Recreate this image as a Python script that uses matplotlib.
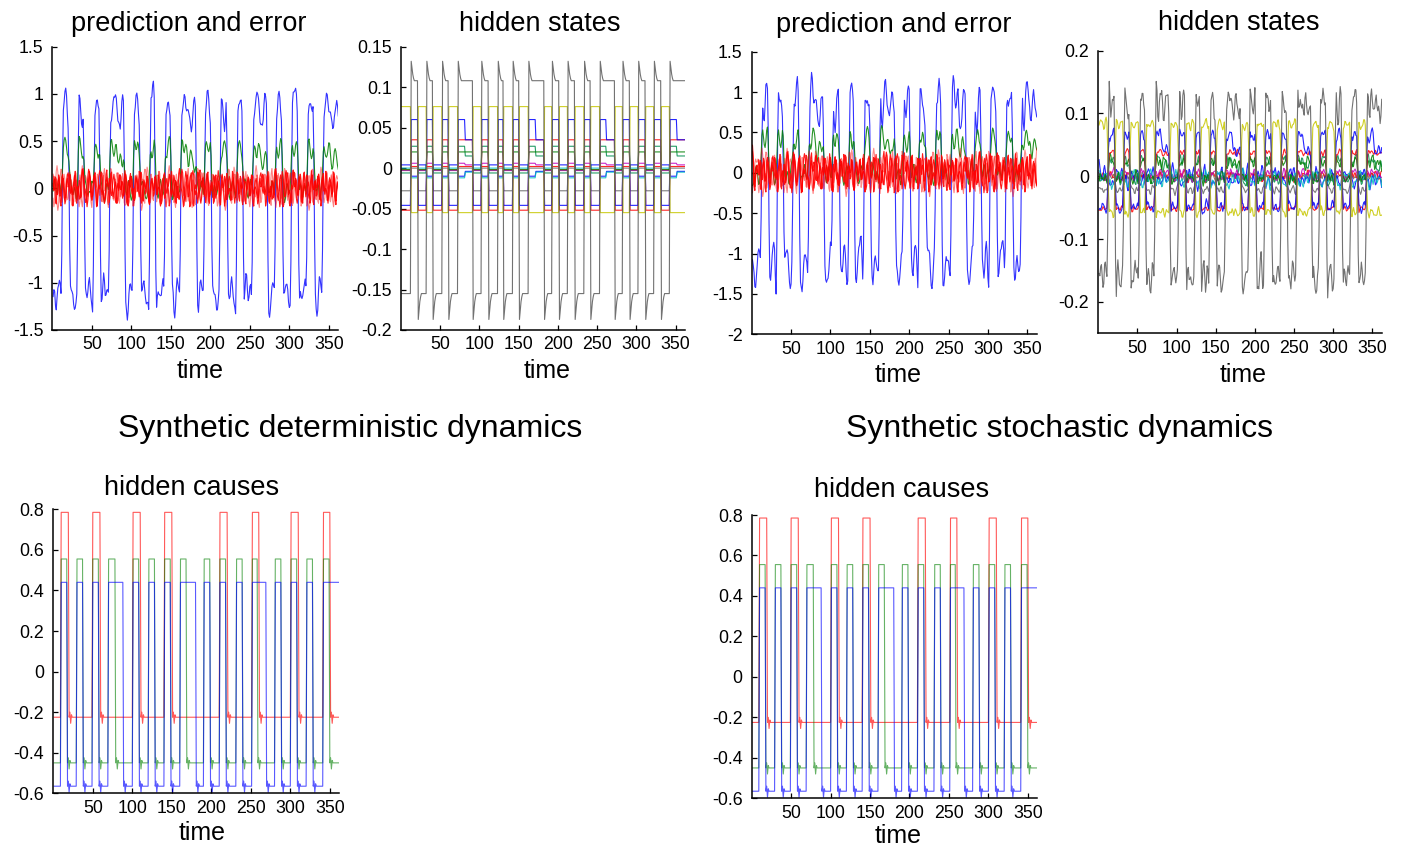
import numpy as np
import matplotlib
matplotlib.use("Agg")
import matplotlib.pyplot as plt

plt.rcParams["font.family"] = ["Liberation Sans", "DejaVu Sans"]

# ---------------- data ----------------
n_steps = 362
time = np.arange(1, n_steps + 1)
xticks = [50, 100, 150, 200, 250, 300, 350]

# hidden causes: intervals (start, end) on the upper level
red_cause_hi = [(10, 20), (50, 60), (101, 111), (141, 151), (211, 221), (252, 261), (301, 311), (342, 351)]
green_cause_hi = [(10, 18), (30, 38), (50, 58), (70, 79), (101, 109), (121, 129), (141, 149), (161, 169),
                  (191, 199), (211, 219), (232, 240), (252, 259), (281, 289), (301, 309), (321, 329), (342, 350)]
blue_cause_hi = [(10, 18), (30, 38), (50, 58), (70, 89), (101, 109), (121, 129), (141, 149), (161, 181),
                 (191, 199), (211, 219), (232, 240), (252, 270), (281, 289), (301, 309), (321, 329), (342, 363)]
red_cause_levels = [0.785, -0.225]
green_cause_levels = [0.555, -0.45]
blue_cause_levels = [0.44, -0.565]
cause_fall_blip = [0.0, 0.025, -0.03, 0.012, 0.0]

# hidden-state / prediction high phases (about 3 steps behind the causes)
state_hi = [(13, 22), (33, 41), (53, 61), (73, 92), (103, 112), (124, 131), (143, 151), (163, 183),
            (193, 202), (213, 222), (234, 242), (254, 273), (283, 292), (303, 312), (323, 332), (343, 363)]
state_first = [(13, 22), (33, 41), (53, 61), (73, 82), (103, 112), (124, 131), (143, 151), (163, 172),
               (193, 202), (213, 222), (234, 242), (254, 262), (283, 292), (303, 312), (323, 332), (343, 352)]

# deterministic hidden states: level in first part of high phase, extended part, low phase
hs_first = [0.108, -0.055, 0.060, 0.035, 0.020, -0.012, 0.006, -0.010, 0.027, 0.002, 0.000]
hs_ext = [0.108, -0.055, 0.035, 0.035, 0.020, -0.005, 0.004, -0.004, 0.015, 0.002, 0.000]
hs_low = [-0.155, 0.076, -0.046, -0.052, -0.002, 0.000, -0.003, 0.004, -0.006, -0.002, -0.028]
# stochastic hidden states
hs2_first = [0.115, -0.058, 0.066, 0.038, 0.022, -0.012, 0.006, -0.010, 0.026, 0.002, 0.000]
hs2_ext = [0.110, -0.058, 0.040, 0.036, 0.020, -0.005, 0.004, -0.004, 0.015, 0.002, 0.000]
hs2_low = [-0.160, 0.082, -0.050, -0.052, -0.004, 0.000, -0.003, 0.004, -0.006, -0.002, -0.022]
hs2_jitter = [0.075, 0.022, 0.026, 0.014, 0.028, 0.026, 0.020, 0.030, 0.026, 0.020, 0.018]
gray_rise = [0.132, 0.124, 0.116, 0.111]
gray_fall = [-0.187, -0.176, -0.165, -0.159]

# predictions (first part of high phase, extended part, low phase)
pred_blue_levels = [0.85, 0.80, -1.15]
pred_green_levels = [0.42, 0.30, -0.02]

# hand-estimated wiggle traces (normalised), reused across the noisy lines
wiggles = [
    [0.2, -0.5, 0.7, 0.1, -0.3, 0.9, -0.8, 0.4, 0.0, -0.6, 0.5, 0.3, -0.9, 0.6, -0.2, 0.8, -0.4, -0.7, 0.3, 0.1,
     -0.5, 0.9, -0.1, 0.4, -0.8, 0.2, 0.6, -0.3, -0.6, 0.7, 0.0, -0.9, 0.5, 0.3, -0.4, 0.8, -0.7, 0.1, 0.6, -0.2,
     -0.5, 0.4, 0.9, -0.8, 0.2, -0.1, 0.7, -0.6, 0.3, -0.3, 0.5, -0.9, 0.8, 0.1, -0.4, 0.6, -0.2, 0.0, -0.7, 0.4],
    [-0.3, 0.6, 0.1, -0.8, 0.4, 0.7, -0.2, -0.6, 0.9, 0.0, -0.4, 0.5, -0.9, 0.3, 0.8, -0.1, -0.7, 0.2, 0.6, -0.5,
     0.1, -0.3, 0.9, -0.6, 0.4, 0.0, -0.8, 0.7, 0.3, -0.2, -0.9, 0.5, 0.2, -0.4, 0.8, -0.1, -0.6, 0.6, 0.0, -0.3,
     0.7, -0.8, 0.4, 0.1, -0.5, 0.9, -0.2, -0.7, 0.3, 0.5, -0.4, 0.8, -0.9, 0.2, 0.6, -0.1, -0.5],
    [0.5, 0.1, -0.4, -0.9, 0.3, 0.8, 0.2, -0.5, -0.1, 0.7, -0.7, 0.4, 0.0, -0.3, 0.9, -0.6, 0.1, 0.6, -0.8, -0.2,
     0.5, 0.3, -0.5, 0.8, -0.9, 0.0, 0.4, -0.1, 0.7, -0.4, 0.2, -0.7, 0.9, 0.1, -0.3, -0.8, 0.6, 0.3, -0.6, 0.5,
     -0.2, 0.8, -0.4, 0.0, 0.7, -0.9, 0.3, 0.2, -0.5, 0.6, -0.1, -0.8, 0.4],
    [-0.1, -0.7, 0.4, 0.6, -0.3, 0.2, -0.9, 0.8, 0.0, -0.4, 0.5, -0.6, 0.9, 0.1, -0.2, -0.8, 0.7, 0.3, -0.5, 0.4,
     0.6, -0.9, 0.2, -0.1, 0.8, -0.3, -0.6, 0.5, 0.1, -0.7, 0.9, -0.4, 0.0, 0.3, -0.8, 0.7, -0.2, 0.4, -0.5, 0.6,
     0.2, -0.9, 0.8, -0.3, 0.1, -0.6, 0.5, 0.0, -0.4, 0.9, -0.7, 0.3, -0.1, 0.6, -0.8, 0.2, 0.4, -0.5, 0.7, -0.3, 0.1],
    [0.4, -0.2, -0.8, 0.5, 0.9, -0.4, 0.1, -0.7, 0.6, 0.2, -0.5, -0.1, 0.8, -0.9, 0.3, 0.0, -0.6, 0.7, -0.3, 0.5,
     -0.8, 0.1, 0.9, -0.2, -0.5, 0.4, 0.6, -0.7, 0.0, 0.3, -0.4, 0.8, -0.6, -0.1, 0.5, 0.2, -0.9, 0.7, -0.3, 0.4,
     0.1, -0.5, 0.6, -0.8, 0.3, 0.9, -0.2, -0.6, 0.5, -0.1, 0.2, -0.7, 0.8, 0.0, -0.4],
    [-0.6, 0.3, 0.8, -0.2, -0.5, 0.6, 0.1, -0.9, 0.4, 0.7, -0.3, 0.0, -0.7, 0.9, -0.1, 0.5, -0.4, 0.2, 0.6, -0.8,
     0.3, -0.2, 0.7, -0.5, 0.1, 0.8, -0.9, 0.4, -0.1, 0.6, -0.6, 0.2, 0.5, -0.3, 0.9, -0.7, 0.0, 0.4, -0.4, 0.7,
     -0.8, 0.1, 0.3, -0.2, 0.6, -0.5, 0.8, -0.9, 0.2, 0.4, -0.6, 0.5, -0.1, 0.7, -0.3, 0.0, 0.6, -0.8, 0.3],
]

# ---------------- helpers ----------------
def mask(intervals):
    m = np.zeros(n_steps, bool)
    for a, b in intervals:
        m[(time >= a) & (time < b)] = True
    return m


def wig(k, shift, stretch=1):
    w = np.repeat(np.array(wiggles[k], float), stretch)
    return np.roll(np.resize(w, n_steps), shift)


def smooth(x, passes=1):
    for _ in range(passes):
        xp = np.concatenate([[x[0]], x, [x[-1]]])
        x = 0.25 * xp[:-2] + 0.5 * xp[1:-1] + 0.25 * xp[2:]
    return x


def cause_series(intervals, levels):
    m = mask(intervals)
    y = np.where(m, levels[0], levels[1]).astype(float)
    for a, b in intervals:
        i = b - time[0]
        for j, v in enumerate(cause_fall_blip):
            if 0 <= i + j < n_steps and not m[i + j]:
                y[i + j] += v
    return y


m_hi = mask(state_hi)
m_first = mask(state_first)
m_ext = m_hi & ~m_first


def three_level(first, ext, low):
    return np.where(m_first, first, np.where(m_ext, ext, low)).astype(float)


def gray_with_transients(y):
    y = y.copy()
    for a, b in state_hi:
        i = a - time[0]
        for j, v in enumerate(gray_rise):
            if 0 <= i + j < n_steps and m_hi[i + j]:
                y[i + j] = v
        i = b - time[0]
        for j, v in enumerate(gray_fall):
            if 0 <= i + j < n_steps and not m_hi[i + j]:
                y[i + j] = v
    return y


W, H = 1403, 849
fig = plt.figure(figsize=(W / 100, H / 100), dpi=100)


def make_axes(x0, x1, ytop, ybot, ylim, yticks, ylabels):
    ax = fig.add_axes([x0 / W, 1 - ybot / H, (x1 - x0) / W, (ybot - ytop) / H])
    ax.set_xlim(0, 362)
    ax.set_ylim(*ylim)
    ax.set_xticks(xticks)
    ax.set_xticklabels([str(v) for v in xticks])
    ax.set_yticks(yticks)
    ax.set_yticklabels(ylabels)
    for s in ("top", "right"):
        ax.spines[s].set_visible(False)
    for s in ("left", "bottom"):
        ax.spines[s].set_linewidth(1.1)
    ax.tick_params(axis="both", direction="in", length=3.5, width=0.9, labelsize=12.8, colors="black")
    ax.tick_params(axis="y", pad=6.5)
    ax.tick_params(axis="x", pad=4.5)
    return ax


def text(x, y, s, size):
    fig.text(x / W, 1 - y / H, s, ha="center", va="baseline", fontsize=size)


lw = 0.8
hs_colors = [(0.35, 0.35, 0.35), (0.78, 0.78, 0.0), (0, 0, 1), (1, 0, 0), (0, 0.5, 0), (0, 0.75, 0.75),
             (0.75, 0, 0.75), (0, 0, 1), (0, 0.55, 0.3), (1, 0, 0), (0.4, 0.4, 0.4)]

# ---------------- panel 1 & 3: prediction and error ----------------
pred_boxes = [(52.3, 338.3, 46.7, 330), (751.7, 1036.7, 51.7, 334.3)]
pred_ylims = [(-1.5, 1.5), (-2, 1.5)]
pred_ticks = [[-1.5, -1, -0.5, 0, 0.5, 1, 1.5], [-2, -1.5, -1, -0.5, 0, 0.5, 1, 1.5]]
pred_labels = [["-1.5", "-1", "-0.5", "0", "0.5", "1", "1.5"],
               ["-2", "-1.5", "-1", "-0.5", "0", "0.5", "1", "1.5"]]
blue_amp = [0.30, 0.45]
green_amp = [0.22, 0.28]
err_amp = [0.30, 0.38]
for p in range(2):
    ax = make_axes(*pred_boxes[p], pred_ylims[p], pred_ticks[p], pred_labels[p])
    bw = smooth(wig(0, 11 * p, 3)) + 0.5 * wig(5, 23 * p)
    blue = smooth(three_level(*pred_blue_levels) + blue_amp[p] * bw, 1)
    green = smooth(three_level(*pred_green_levels) + green_amp[p] * smooth(wig(1, 5 + 17 * p, 2)), 1)
    ax.plot(time, blue, color=(0, 0, 1), lw=lw, alpha=0.8)
    ax.plot(time, green, color=(0, 0.5, 0), lw=lw, alpha=0.85)
    for k, (sh, al) in enumerate([(0, 0.5), (13, 0.9), (29, 0.45), (41, 0.9)]):
        err = err_amp[p] * smooth(wig(2 + k, sh + 7 * p, 2))
        ax.plot(time, err, color=(1, 0, 0), lw=lw, alpha=al)

# ---------------- panel 2 & 4: hidden states ----------------
hs_boxes = [(401, 685, 46.7, 330), (1098.3, 1381.7, 50.7, 333.3)]
hs_ylims = [(-0.2, 0.15), (-0.25, 0.2)]
hs_ticks = [[-0.2, -0.15, -0.1, -0.05, 0, 0.05, 0.1, 0.15], [-0.2, -0.1, 0, 0.1, 0.2]]
hs_labels = [["-0.2", "-0.15", "-0.1", "-0.05", "0", "0.05", "0.1", "0.15"],
             ["-0.2", "-0.1", "0", "0.1", "0.2"]]
for p in range(2):
    ax = make_axes(*hs_boxes[p], hs_ylims[p], hs_ticks[p], hs_labels[p])
    firsts, exts, lows = (hs_first, hs_ext, hs_low) if p == 0 else (hs2_first, hs2_ext, hs2_low)
    order = [10, 9, 8, 7, 6, 5, 4, 3, 2, 1, 0]
    for i in order:
        y = three_level(firsts[i], exts[i], lows[i])
        if i == 0:
            y = gray_with_transients(y)
        if p == 1:
            y = smooth(y + hs2_jitter[i] * (0.6 * smooth(wig(i % 6, 9 * i + 3, 2)) + 0.5 * wig((i + 3) % 6, 5 * i)))
        ax.plot(time, y, color=hs_colors[i], lw=lw, alpha=0.85)

# ---------------- panel 5 & 6: hidden causes ----------------
hc_boxes = [(53.3, 339.3, 509.3, 793.3), (751.7, 1037.3, 515, 798.3)]
hc_ticks = [-0.6, -0.4, -0.2, 0, 0.2, 0.4, 0.6, 0.8]
hc_labels = ["-0.6", "-0.4", "-0.2", "0", "0.2", "0.4", "0.6", "0.8"]
for p in range(2):
    ax = make_axes(*hc_boxes[p], (-0.6, 0.8), hc_ticks, hc_labels)
    ax.plot(time, cause_series(red_cause_hi, red_cause_levels), color=(1, 0, 0), lw=lw, alpha=0.65)
    ax.plot(time, cause_series(green_cause_hi, green_cause_levels), color=(0, 0.5, 0), lw=lw, alpha=0.6)
    ax.plot(time, cause_series(blue_cause_hi, blue_cause_levels), color=(0, 0, 1), lw=lw, alpha=0.65)

# ---------------- texts ----------------
titles = [("prediction and error", 189.2, 30.7), ("hidden states", 540, 30.7),
          ("prediction and error", 894.2, 31.7), ("hidden states", 1239.2, 30.0),
          ("hidden causes", 191.7, 495.0), ("hidden causes", 901.3, 496.7)]
for s, x, y in titles:
    text(x, y, s, 19.5)
xlabels = [(200, 378.3), (546.7, 378.3), (898.3, 381.7), (1243.3, 381.7), (201.7, 840), (898.3, 843.3)]
for x, y in xlabels:
    text(x, y, "time", 18)
text(350, 437, "Synthetic deterministic dynamics", 23)
text(1059, 437, "Synthetic stochastic dynamics", 23)

fig.savefig("out.png", dpi=100)
